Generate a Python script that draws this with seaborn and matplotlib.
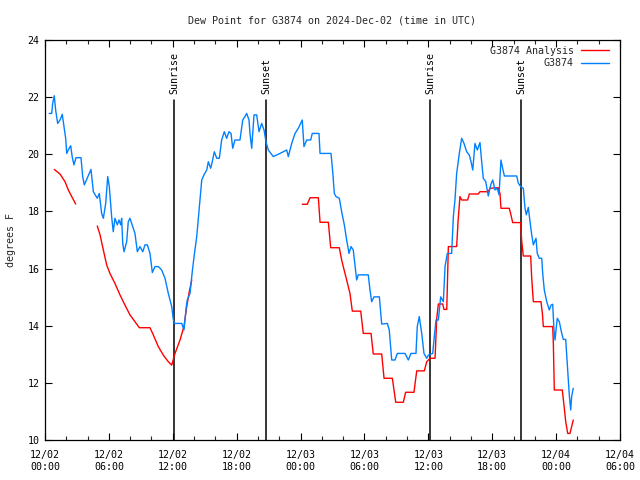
import numpy as np
import pandas as pd
import matplotlib
matplotlib.use("Agg")
import matplotlib.pyplot as plt
import seaborn as sns
from matplotlib.lines import Line2D

# ---------------- data (hours since 2024-12-02 00:00 UTC, degrees F) ----------------
obs_hours = [0.40, 0.63, 0.72, 0.87, 1.00, 1.19, 1.41, 1.62, 1.78, 1.94, 2.04, 2.25, 2.41, 2.56, 2.72,
             2.91, 3.38, 3.54, 3.69, 4.16, 4.32, 4.54, 4.91, 5.10, 5.32, 5.48, 5.70, 5.89, 6.04, 6.26,
             6.41, 6.57, 6.79, 6.95, 7.11, 7.20, 7.30, 7.42, 7.67, 7.82, 7.98, 8.24, 8.45, 8.67, 8.92,
             9.18, 9.39, 9.61, 9.86, 10.08, 10.33, 10.64, 10.96, 11.27, 11.58, 11.90, 12.05, 12.14,
             12.84, 13.05, 13.27, 13.36, 13.62, 13.83, 14.02, 14.25, 14.49, 14.72, 14.93, 15.19, 15.34,
             15.56, 15.71, 15.90, 16.13, 16.37, 16.59, 16.84, 17.06, 17.28, 17.47, 17.63, 17.84, 18.31,
             18.57, 18.78, 18.94, 19.16, 19.25, 19.41, 19.63, 19.88, 20.10, 20.35, 20.57, 20.75, 20.97,
             21.44, 22.07, 22.70, 22.85, 23.17, 23.48, 23.79, 24.16, 24.32, 24.58, 24.95, 25.10, 25.73,
             25.83, 26.86, 27.02, 27.17, 27.33, 27.64, 27.86, 28.11, 28.33, 28.55, 28.74, 28.95, 29.27,
             29.42, 30.36, 30.52, 30.68, 30.90, 31.40, 31.62, 32.15, 32.33, 32.56, 32.87, 33.09, 33.81,
             34.12, 34.37, 34.84, 34.96, 35.15, 35.38, 35.59, 35.85, 36.00, 36.41, 36.56, 36.72, 36.94,
             37.16, 37.41, 37.57, 37.78, 38.19, 38.35, 38.50, 38.66, 38.91, 39.13, 39.35, 39.60, 39.85,
             40.01, 40.17, 40.38, 40.60, 40.85, 41.01, 41.16, 41.39, 41.63, 41.86, 42.05, 42.26, 42.48,
             42.64, 42.82, 42.98, 43.14, 44.30, 44.45, 44.67, 44.92, 45.08, 45.20, 45.39, 45.55, 45.71,
             45.86, 46.11, 46.23, 46.42, 46.65, 46.74, 46.89, 47.12, 47.36, 47.52, 47.68, 47.80, 47.90,
             47.99, 48.11, 48.30, 48.53, 48.68, 48.90, 49.05, 49.15, 49.24, 49.37, 49.46, 49.61]
obs_values = [21.43, 21.43, 21.78, 22.05, 21.55, 21.08, 21.20, 21.40, 20.97, 20.56, 20.03, 20.20, 20.30,
              19.90, 19.63, 19.88, 19.88, 19.22, 18.93, 19.33, 19.47, 18.69, 18.46, 18.63, 17.93, 17.76,
              18.28, 19.22, 18.87, 17.81, 17.29, 17.76, 17.53, 17.70, 17.53, 17.76, 16.88, 16.59, 16.94,
              17.64, 17.76, 17.47, 17.23, 16.59, 16.77, 16.59, 16.83, 16.83, 16.53, 15.86, 16.07, 16.07,
              15.95, 15.66, 15.13, 14.67, 14.22, 14.08, 14.08, 13.85, 14.67, 14.90, 15.13, 15.89, 16.48,
              17.12, 18.11, 19.10, 19.28, 19.45, 19.74, 19.51, 19.74, 20.09, 19.86, 19.86, 20.50, 20.79,
              20.56, 20.79, 20.73, 20.21, 20.50, 20.50, 21.20, 21.32, 21.43, 21.20, 20.73, 20.21, 21.38,
              21.38, 20.79, 21.08, 20.85, 20.44, 20.15, 19.92, 20.03, 20.15, 19.92, 20.38, 20.73, 20.91,
              21.20, 20.27, 20.50, 20.50, 20.73, 20.73, 20.03, 20.03, 19.39, 18.63, 18.52, 18.46, 17.99,
              17.53, 17.00, 16.53, 16.77, 16.65, 15.60, 15.78, 15.78, 15.25, 14.84, 15.01, 15.01, 14.06,
              14.08, 13.85, 12.80, 12.80, 13.03, 13.03, 12.80, 13.03, 13.03, 13.97, 14.32, 13.73, 13.03,
              12.86, 12.97, 13.03, 13.62, 14.20, 14.20, 15.01, 14.84, 16.07, 16.53, 16.53, 17.82, 18.40,
              19.33, 20.03, 20.56, 20.38, 20.09, 19.97, 19.74, 19.45, 20.38, 20.15, 20.41, 19.74, 19.16,
              19.04, 18.54, 18.93, 19.10, 18.75, 18.81, 18.58, 19.80, 19.51, 19.24, 19.24, 18.99, 18.87,
              18.81, 18.11, 17.88, 18.14, 17.64, 17.18, 16.83, 17.06, 16.53, 16.36, 16.36, 15.83, 15.25,
              14.84, 14.55, 14.72, 14.75, 13.85, 13.50, 13.85, 14.26, 14.14, 13.73, 13.52, 13.52, 12.68,
              12.10, 11.57, 11.05, 11.52, 11.81]

ana_hours = [0.87, 1.41, 1.88, 2.19, 2.51, 2.88,
             4.91, 5.17, 5.48, 5.79, 6.10, 6.57, 7.04, 7.51, 7.98, 8.45, 8.86, 9.86, 10.17, 10.64, 11.11,
             11.58, 11.90, 12.21, 12.68, 13.05, 13.31, 13.55, 13.78,
             24.16, 24.63, 24.89, 25.67, 25.83, 26.61, 26.83, 27.64, 27.86, 28.01, 28.33, 28.64, 28.86,
             29.65, 29.89, 30.62, 30.83, 31.62, 31.84, 32.62, 32.94, 33.65, 33.87, 34.65, 34.91, 35.62,
             35.85, 36.16, 36.63, 36.79, 36.94, 37.35, 37.47, 37.73, 37.88, 38.66, 38.80, 38.97, 39.13,
             39.69, 39.85, 40.69, 40.85, 41.63, 41.79, 42.57, 42.73, 42.82, 43.60, 43.76, 43.92, 44.67,
             44.76, 44.86, 44.92, 45.61, 45.71, 45.86, 46.58, 46.71, 46.80, 47.68, 47.74, 47.83, 48.58,
             48.74, 48.90, 49.09, 49.30, 49.46, 49.61]
ana_values = [19.47, 19.31, 19.04, 18.75, 18.52, 18.26,
              17.49, 17.18, 16.65, 16.13, 15.83, 15.48, 15.08, 14.72, 14.38, 14.14, 13.93, 13.93, 13.68,
              13.27, 12.97, 12.74, 12.62, 13.03, 13.50, 13.97, 14.67, 15.19, 15.60,
              18.25, 18.25, 18.48, 18.48, 17.62, 17.62, 16.73, 16.73, 16.30, 16.07, 15.60, 15.13, 14.51,
              14.51, 13.73, 13.73, 13.01, 13.01, 12.16, 12.16, 11.32, 11.32, 11.67, 11.67, 12.42, 12.42,
              12.74, 12.86, 12.86, 14.26, 14.76, 14.76, 14.57, 14.57, 16.77, 16.77, 17.70, 18.52, 18.40,
              18.40, 18.61, 18.61, 18.69, 18.69, 18.81, 18.83, 18.63, 18.11, 18.11, 17.88, 17.61, 17.61,
              17.00, 16.65, 16.44, 16.44, 15.66, 14.84, 14.84, 14.43, 13.97, 13.97, 13.38, 11.75, 11.75,
              11.22, 10.64, 10.23, 10.23, 10.47, 10.70]
ana_segment = [0] * 6 + [1] * 23 + [2] * 71

sun_hours = [12.11, 20.75, 36.16, 44.70]
sun_labels = ["Sunrise", "Sunset", "Sunrise", "Sunset"]

xtick_hours = [0, 6, 12, 18, 24, 30, 36, 42, 48, 54]
xtick_labels = ["12/02\n00:00", "12/02\n06:00", "12/02\n12:00", "12/02\n18:00",
                "12/03\n00:00", "12/03\n06:00", "12/03\n12:00", "12/03\n18:00",
                "12/04\n00:00", "12/04\n06:00"]
ytick_values = [10, 12, 14, 16, 18, 20, 22, 24]

title = "Dew Point for G3874 on 2024-Dec-02 (time in UTC)"
ylabel = "degrees F"
ana_name = "G3874 Analysis"
obs_name = "G3874"

RED = "#ff0000"
BLUE = "#0080ff"

# ---------------- plot ----------------
sns.set_style("ticks")
plt.rcParams["font.family"] = ["DejaVu Sans Mono"]
plt.rcParams["font.size"] = 7.2

obs_df = pd.DataFrame({"hour": obs_hours, "value": obs_values})
ana_df = pd.DataFrame({"hour": ana_hours, "value": ana_values, "seg": ana_segment})

fig = plt.figure(figsize=(6.4, 4.8), dpi=100)
ax = fig.add_axes([45 / 640, 40 / 480, 575 / 640, 400 / 480])

sns.lineplot(data=ana_df, x="hour", y="value", units="seg", estimator=None, sort=False,
             color=RED, linewidth=1.0, ax=ax, legend=False)
sns.lineplot(data=obs_df, x="hour", y="value", estimator=None, sort=False,
             color=BLUE, linewidth=1.0, ax=ax, legend=False)

ax.set_xlim(0, 54)
ax.set_ylim(10, 24)

for h, lab in zip(sun_hours, sun_labels):
    ax.plot([h, h], [10, 21.9], color="black", linewidth=1.1, zorder=1)
    ax.text(h, 22.1, lab, rotation=90, ha="center", va="bottom", fontsize=7.2, color="black")

ax.set_xticks(xtick_hours)
ax.set_xticklabels(xtick_labels, linespacing=1.25)
ax.set_xticks(np.arange(0, 55, 2), minor=True)
ax.set_yticks(ytick_values)
ax.set_yticklabels([str(v) for v in ytick_values])

ax.tick_params(axis="both", which="major", direction="in", length=5, width=0.8,
               top=True, right=True, labelsize=7.2, colors="black")
ax.tick_params(axis="x", which="major", pad=7.5)
ax.tick_params(axis="y", which="major", pad=4)
ax.tick_params(axis="x", which="minor", direction="in", length=3, width=0.8,
               top=True, bottom=True)
for s in ax.spines.values():
    s.set_color("black")
    s.set_linewidth(0.9)

ax.set_xlabel("")
ax.set_ylabel(ylabel, fontsize=7.2, labelpad=8)
ax.set_title(title, fontsize=7.2, pad=12)

handles = [Line2D([], [], color=RED, linewidth=1.0), Line2D([], [], color=BLUE, linewidth=1.0)]
leg = ax.legend(handles, [ana_name, obs_name], loc="upper right", bbox_to_anchor=(1 - 5 / 575, 1.0),
                frameon=False, markerfirst=False,
                handlelength=2.8, handletextpad=0.7, borderaxespad=0.2, labelspacing=0.25,
                fontsize=7.2)
# right-align legend rows (text sits just left of the line sample, gnuplot style)
try:
    for col in leg._legend_handle_box.get_children():
        col.align = "right"
except Exception:
    pass

fig.savefig("out.png", dpi=100)
